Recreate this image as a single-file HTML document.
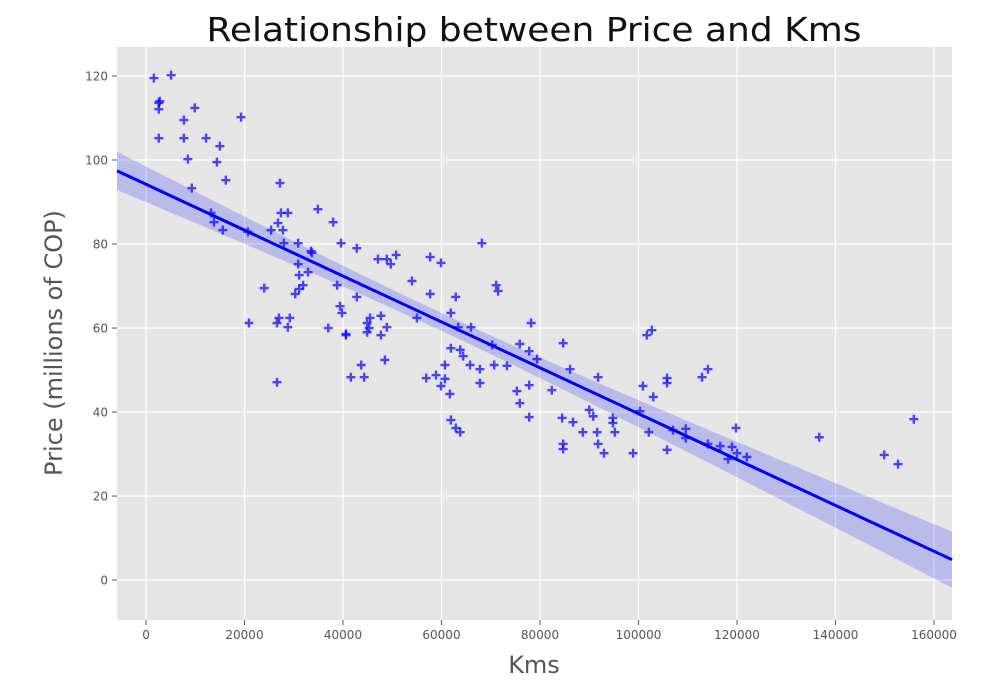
<!DOCTYPE html>
<html><head><meta charset="utf-8"><style>
body{margin:0;background:#fff;}
svg text{font-family:"DejaVu Sans","Liberation Sans",sans-serif;}
</style></head><body>
<svg id="chart" width="1003" height="695" xmlns="http://www.w3.org/2000/svg">
<text x="534" y="41" font-size="33" text-anchor="middle" fill="#111" textLength="655" lengthAdjust="spacingAndGlyphs">Relationship between Price and Kms</text>
<text x="534" y="673" font-size="24" text-anchor="middle" fill="#555">Kms</text>
<text transform="translate(62,343) rotate(-90)" font-size="24" text-anchor="middle" fill="#555">Price (millions of COP)</text>
<g id="plot"></g>
</svg>
<script>
const kms = [1600,5100,2800,2600,2600,9900,7700,19300,2600,7700,12200,15000,8500,14400,16200,27200,9300,34900,13200,27400,28800,38000,13800,26800,15600,27800,25400,20700,28000,30900,39600,33500,33700,30900,31100,32900,31900,31100,30300,38800,24000,39400,39800,20900,26600,27000,29200,28800,37000,40600,26600,42800,47100,48900,49700,50800,57700,59900,68200,54000,42800,57700,62900,71100,71500,55000,61900,45500,44900,45300,44900,47700,48900,47700,40600,63400,66000,78200,61900,63800,64400,70300,75900,77800,79400,60700,65800,67800,70700,73300,43700,48500,41600,44300,56900,58900,60700,59900,61700,67800,75300,77800,75900,82400,77800,61900,62900,63800,84700,101700,102700,86100,91800,100900,103000,105800,105800,112900,114100,100300,90000,90800,84500,86700,94800,94800,88700,91600,95200,102100,107000,109600,109600,119800,84700,84700,91800,93000,98900,105800,114100,116600,119000,118200,120000,122000,136700,149900,152700,155900];
const price = [119.5,120.2,114.0,113.6,112.1,112.4,109.5,110.2,105.2,105.2,105.2,103.3,100.2,99.5,95.2,94.5,93.3,88.3,87.4,87.4,87.4,85.2,85.2,85.0,83.3,83.3,83.3,82.9,80.2,80.2,80.2,78.3,77.9,75.2,72.6,73.3,70.2,69.3,68.1,70.2,69.5,65.2,63.6,61.2,61.2,62.4,62.4,60.2,60.0,58.6,47.1,79.0,76.4,76.4,75.2,77.4,76.9,75.5,80.2,71.2,67.4,68.1,67.4,70.2,68.8,62.4,63.6,62.4,61.2,60.0,59.0,62.9,60.2,58.3,58.3,60.2,60.2,61.2,55.2,54.8,53.3,56.0,56.2,54.5,52.6,51.2,51.2,50.2,51.2,51.0,51.2,52.4,48.3,48.3,48.1,48.8,47.9,46.2,44.3,46.9,45.0,46.4,42.1,45.2,38.8,38.1,36.2,35.2,56.4,58.3,59.5,50.2,48.3,46.2,43.6,48.1,46.9,48.3,50.2,40.2,40.5,39.0,38.6,37.6,38.6,37.4,35.2,35.2,35.2,35.2,35.7,36.0,33.8,36.2,32.4,31.2,32.4,30.2,30.2,31.0,32.4,31.9,31.7,28.8,30.2,29.3,34.0,29.8,27.6,38.3];
const xTicks = [0,20000,40000,60000,80000,100000,120000,140000,160000];
const yTicks = [0,20,40,60,80,100,120];
const xDomain = [-5890,163655];
const yDomain = [-9.5,126.9];

const L=117,R=952,T=47,B=620;
const sx=v=>L+(v-xDomain[0])/(xDomain[1]-xDomain[0])*(R-L);
const sy=v=>B-(v-yDomain[0])/(yDomain[1]-yDomain[0])*(B-T);
const NS="http://www.w3.org/2000/svg";
const g=document.getElementById('plot');
function mk(tag,attrs,parent){const e=document.createElementNS(NS,tag);for(const k in attrs)e.setAttribute(k,attrs[k]);(parent||g).appendChild(e);return e;}

const bg=mk('rect',{x:L,y:T,width:R-L,height:B-T,fill:'#e5e5e5'});



xTicks.forEach(t=>{
  const x=sx(t);
  const gl=mk('line',{x1:x,x2:x,y1:T,y2:B,stroke:'#fff','stroke-width':1.2});
  
  
  const tk=mk('line',{x1:x,x2:x,y1:B,y2:B+5,stroke:'#555','stroke-width':1});
  
  
  const tx=mk('text',{x:x,y:B+19,'font-size':12,'text-anchor':'middle',fill:'#555'});
  tx.textContent=t;
  
  
});
yTicks.forEach(t=>{
  const y=sy(t);
  const gl=mk('line',{x1:L,x2:R,y1:y,y2:y,stroke:'#fff','stroke-width':1.2});
  
  
  const tk=mk('line',{x1:L-5,x2:L,y1:y,y2:y,stroke:'#555','stroke-width':1});
  
  
  const tx=mk('text',{x:L-9,y:y+4.5,'font-size':12,'text-anchor':'end',fill:'#555'});
  tx.textContent=t;
  
  
});

// regression
const n=kms.length;
const xm=kms.reduce((a,b)=>a+b,0)/n, ym=price.reduce((a,b)=>a+b,0)/n;
let sxx=0,sxy=0;for(let i=0;i<n;i++){sxx+=(kms[i]-xm)**2;sxy+=(kms[i]-xm)*(price[i]-ym);}
const slope=sxy/sxx, icpt=ym-slope*xm;
let sse=0;for(let i=0;i<n;i++){sse+=(price[i]-icpt-slope*kms[i])**2;}
const s=Math.sqrt(sse/(n-2));
const steps=60, up=[], lo=[];
for(let k=0;k<=steps;k++){
  const x=xDomain[0]+(xDomain[1]-xDomain[0])*k/steps;
  const yh=icpt+slope*x;
  const se=2.1*s*Math.sqrt(1/n+(x-xm)**2/sxx);
  up.push(sx(x)+','+sy(yh+se)); lo.unshift(sx(x)+','+sy(yh-se));
}
const band=mk('polygon',{points:up.concat(lo).join(' '),fill:'#0000ff','fill-opacity':0.18});



kms.forEach((v,i)=>{
  const x=sx(v),y=sy(price[i]),a=4.5;
  const p=mk('path',{d:`M${x-a},${y}H${x+a}M${x},${y-a}V${y+a}`,stroke:'#0000ff','stroke-opacity':0.7,'stroke-width':2.4});
  
  
});

const rl=mk('line',{x1:sx(xDomain[0]),y1:sy(icpt+slope*xDomain[0]),x2:sx(xDomain[1]),y2:sy(icpt+slope*xDomain[1]),stroke:'#0000ff','stroke-width':3});


</script>
</body></html>
